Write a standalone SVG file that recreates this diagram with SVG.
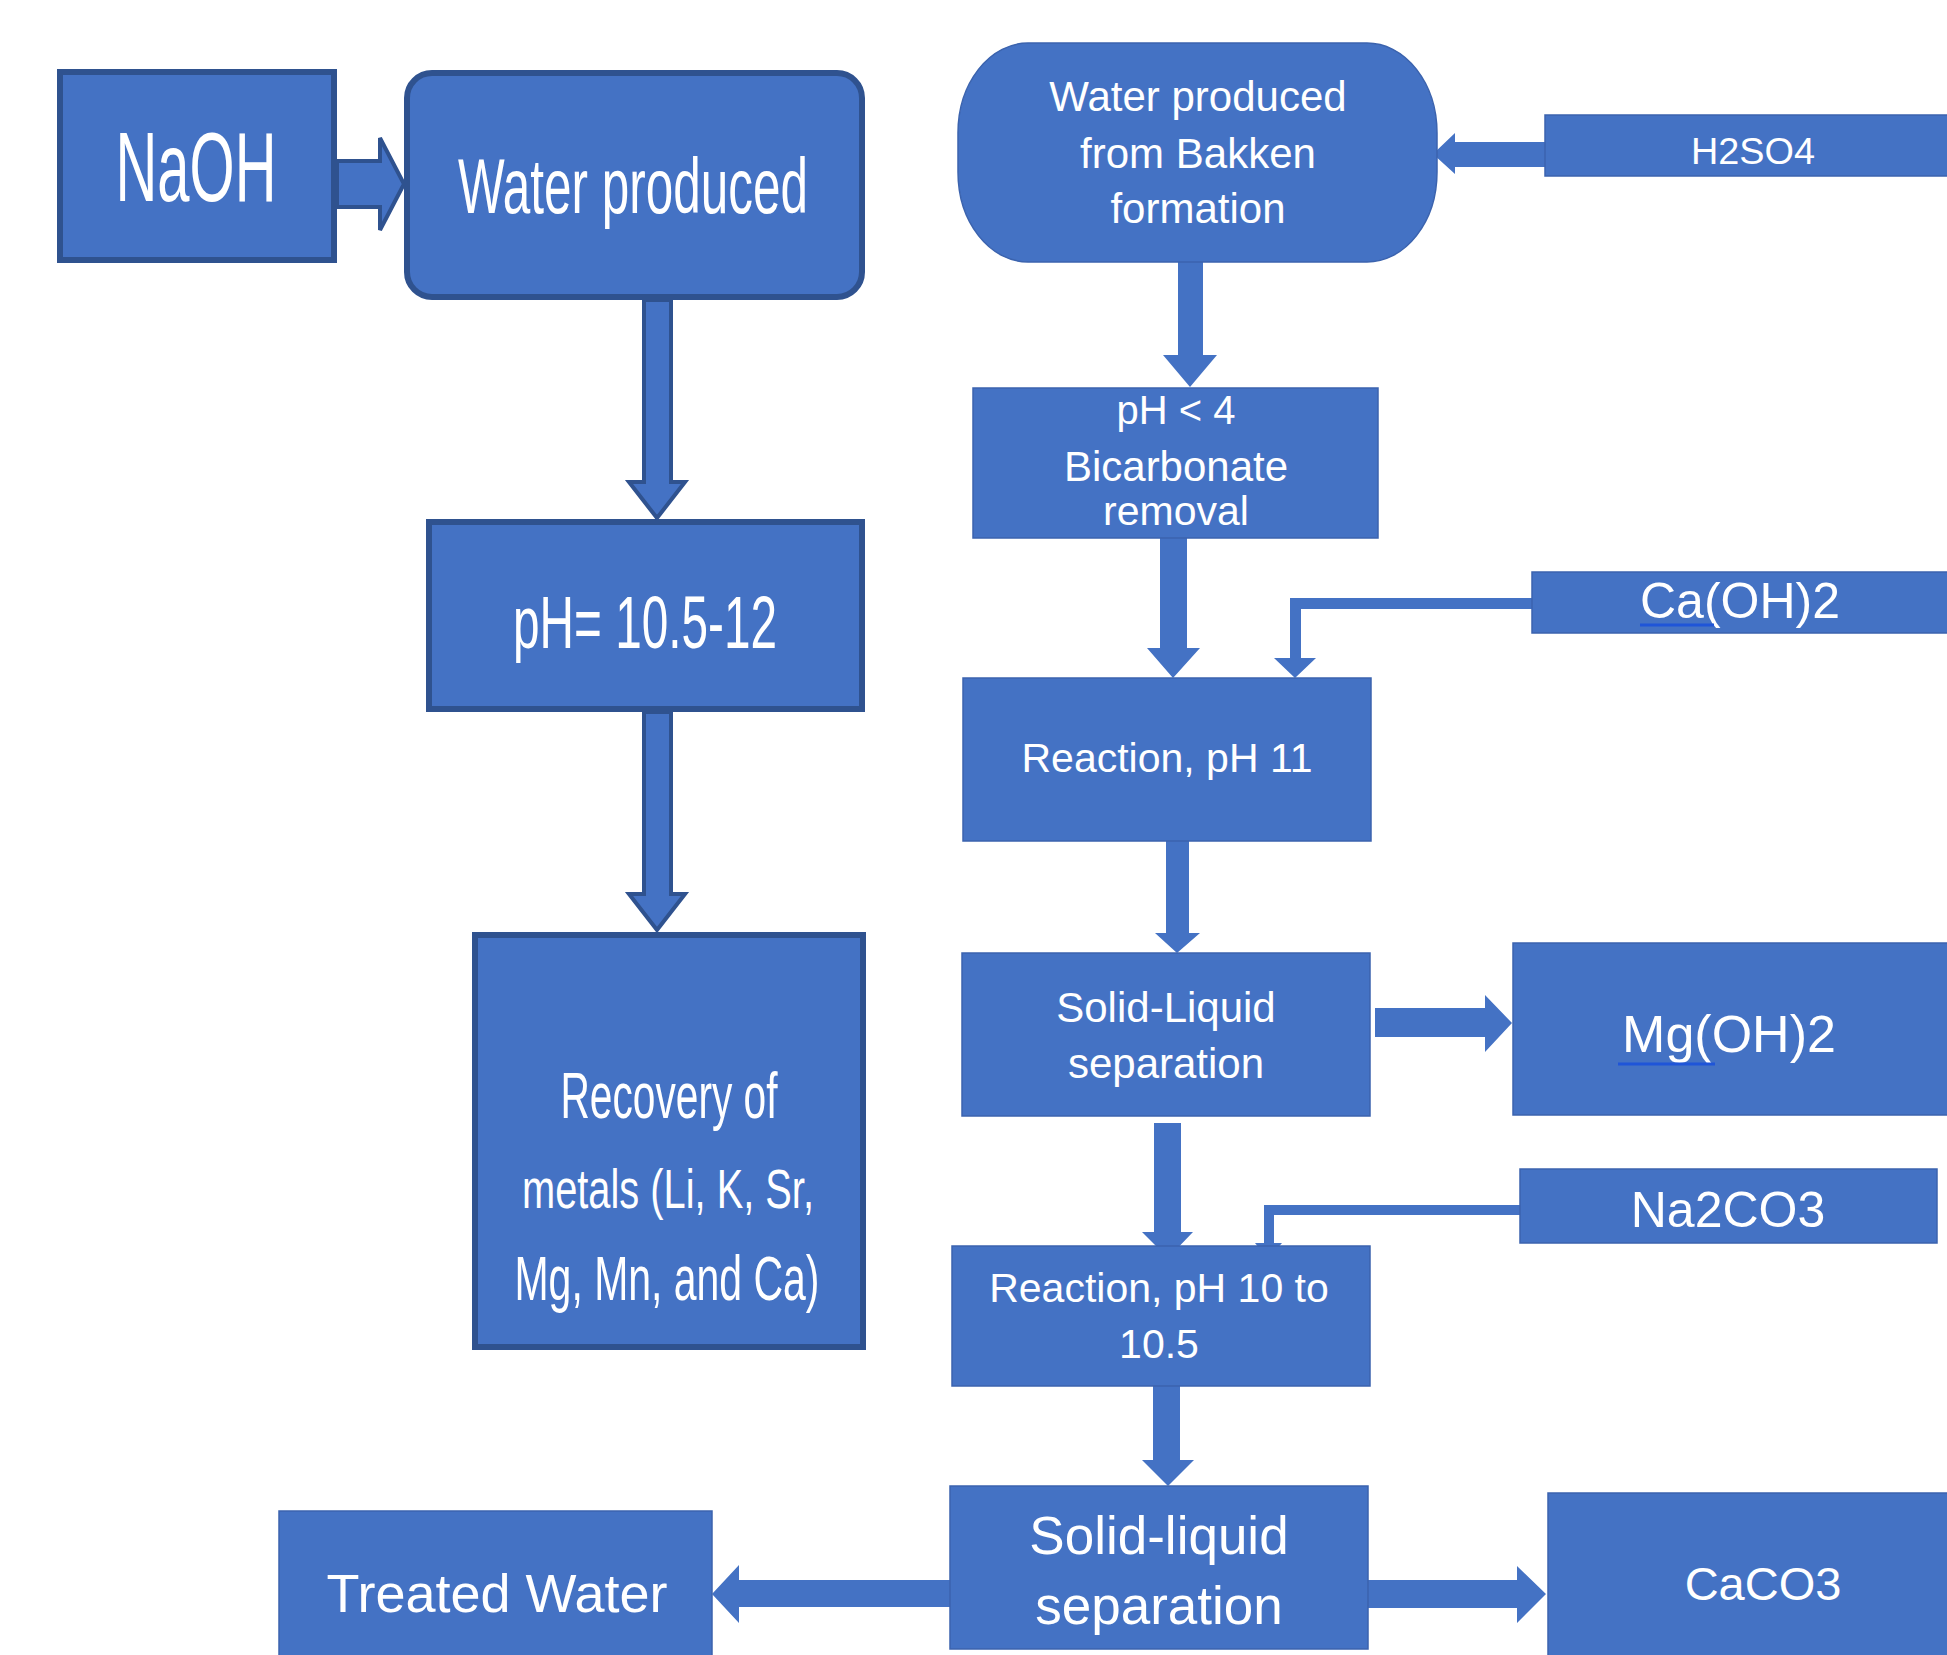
<svg xmlns="http://www.w3.org/2000/svg" width="1947" height="1655" viewBox="0 0 1947 1655">
<style>
.bx{fill:#4472C4;stroke:#2F528F;stroke-width:6}
.rb{fill:#4472C4;stroke:#3B63AE;stroke-width:1.5}
.ar{fill:#4472C4;stroke:#2F528F;stroke-width:4;stroke-linejoin:miter}
.ra{fill:#4472C4;stroke:none}
text{font-family:"Liberation Sans",Arial,sans-serif;fill:#FFFFFF;text-anchor:middle}
.ul{stroke:#1F55D8;stroke-width:3;fill:none}
</style>
<rect x="0" y="0" width="1947" height="1655" fill="#FFFFFF"/>
<g id="connectors">
<path class="ar" d="M337,161 H380 V138 L404,184 L380,230 V207 H337 Z"/>
<path class="ar" d="M644,300 V482 H629 L657,518 L685,482 H671 V300 Z"/>
<path class="ar" d="M644,712 V894 H629 L657,930 L685,894 H671 V712 Z"/>
<path class="ra" d="M1545,142 H1455 V133 L1433,154 L1455,174 V167 H1545 Z"/>
<path class="ra" d="M1178,262 V355 H1163 L1190,387 L1217,355 H1203 V262 Z"/>
<path class="ra" d="M1160,538 V648 H1147 L1173,678 L1200,648 H1187 V538 Z"/>
<path class="ra" d="M1532,598 H1290 V658 H1274 L1295,678 L1316,658 H1301 V609 H1532 Z"/>
<path class="ra" d="M1166,841 V933 H1155 L1177,953 L1200,933 H1189 V841 Z"/>
<path class="ra" d="M1375,1008 H1485 V995 L1512,1023 L1485,1052 V1037 H1375 Z"/>
<path class="ra" d="M1154,1123 V1232 H1142 L1168,1258 L1193,1232 H1181 V1123 Z"/>
<path class="ra" d="M1520,1205 H1264 V1243 H1255 L1268,1259 L1282,1243 H1274 V1215 H1520 Z"/>
<path class="ra" d="M1153,1386 V1460 H1142 L1168,1486 L1194,1460 H1180 V1386 Z"/>
<path class="ra" d="M950,1580 H739 V1565 L712,1594 L739,1623 V1607 H950 Z"/>
<path class="ra" d="M1368,1580 H1517 V1566 L1546,1594 L1517,1623 V1608 H1368 Z"/>
</g>
<g id="naoh">
<rect class="bx" x="60" y="72" width="274" height="188"/>
<text x="196" y="201" font-size="98" textLength="161" lengthAdjust="spacingAndGlyphs">NaOH</text>
</g>
<g id="water-produced">
<rect class="bx" x="407" y="73" width="455" height="224" rx="25" ry="25"/>
<text x="633" y="213" font-size="78" textLength="350" lengthAdjust="spacingAndGlyphs">Water produced</text>
</g>
<g id="ph-10-12">
<rect class="bx" x="429" y="522" width="433" height="187"/>
<text x="645" y="648" font-size="75" textLength="264" lengthAdjust="spacingAndGlyphs">pH= 10.5-12</text>
</g>
<g id="recovery">
<rect class="bx" x="475" y="935" width="388" height="412"/>
<text x="669" y="1118" font-size="64" textLength="217" lengthAdjust="spacingAndGlyphs">Recovery of</text>
<text x="668" y="1208" font-size="56" textLength="292" lengthAdjust="spacingAndGlyphs">metals (Li, K, Sr,</text>
<text x="667" y="1300" font-size="63" textLength="305" lengthAdjust="spacingAndGlyphs">Mg, Mn, and Ca)</text>
</g>
<g id="bakken">
<rect class="rb" x="958" y="43" width="479" height="219" rx="70" ry="90"/>
<text x="1198" y="111" font-size="42">Water produced</text>
<text x="1198" y="168" font-size="42">from Bakken</text>
<text x="1198" y="223" font-size="42">formation</text>
</g>
<g id="h2so4">
<rect class="rb" x="1545" y="115" width="410" height="61"/>
<text x="1753" y="164" font-size="36" textLength="124" lengthAdjust="spacingAndGlyphs">H2SO4</text>
</g>
<g id="ph-lt-4">
<rect class="rb" x="973" y="388" width="405" height="150"/>
<text x="1176" y="424" font-size="40">pH &lt; 4</text>
<text x="1176" y="481" font-size="42">Bicarbonate</text>
<text x="1176" y="525" font-size="41">removal</text>
</g>
<g id="caoh2">
<rect class="rb" x="1532" y="572" width="420" height="61"/>
<text x="1740" y="618" font-size="50">Ca(OH)2</text>
<line class="ul" x1="1640" y1="625" x2="1714" y2="625"/>
</g>
<g id="reaction-11">
<rect class="rb" x="963" y="678" width="408" height="163"/>
<text x="1167" y="772" font-size="41">Reaction, pH 11</text>
</g>
<g id="solid-liquid-1">
<rect class="rb" x="962" y="953" width="408" height="163"/>
<text x="1166" y="1022" font-size="42">Solid-Liquid</text>
<text x="1166" y="1078" font-size="42">separation</text>
</g>
<g id="mgoh2">
<rect class="rb" x="1513" y="943" width="440" height="172"/>
<text x="1729" y="1052" font-size="52">Mg(OH)2</text>
<line class="ul" x1="1618" y1="1064" x2="1715" y2="1064"/>
</g>
<g id="na2co3">
<rect class="rb" x="1520" y="1169" width="417" height="74"/>
<text x="1728" y="1227" font-size="50">Na2CO3</text>
</g>
<g id="reaction-10">
<rect class="rb" x="952" y="1246" width="418" height="140"/>
<text x="1159" y="1302" font-size="41">Reaction, pH 10 to</text>
<text x="1159" y="1358" font-size="41">10.5</text>
</g>
<g id="solid-liquid-2">
<rect class="rb" x="950" y="1486" width="418" height="163"/>
<text x="1159" y="1554" font-size="53">Solid-liquid</text>
<text x="1159" y="1624" font-size="53">separation</text>
</g>
<g id="treated-water">
<rect class="rb" x="279" y="1511" width="433" height="160"/>
<text x="497" y="1612" font-size="54">Treated Water</text>
</g>
<g id="caco3">
<rect class="rb" x="1548" y="1493" width="405" height="170"/>
<text x="1763" y="1600" font-size="47">CaCO3</text>
</g>
</svg>
